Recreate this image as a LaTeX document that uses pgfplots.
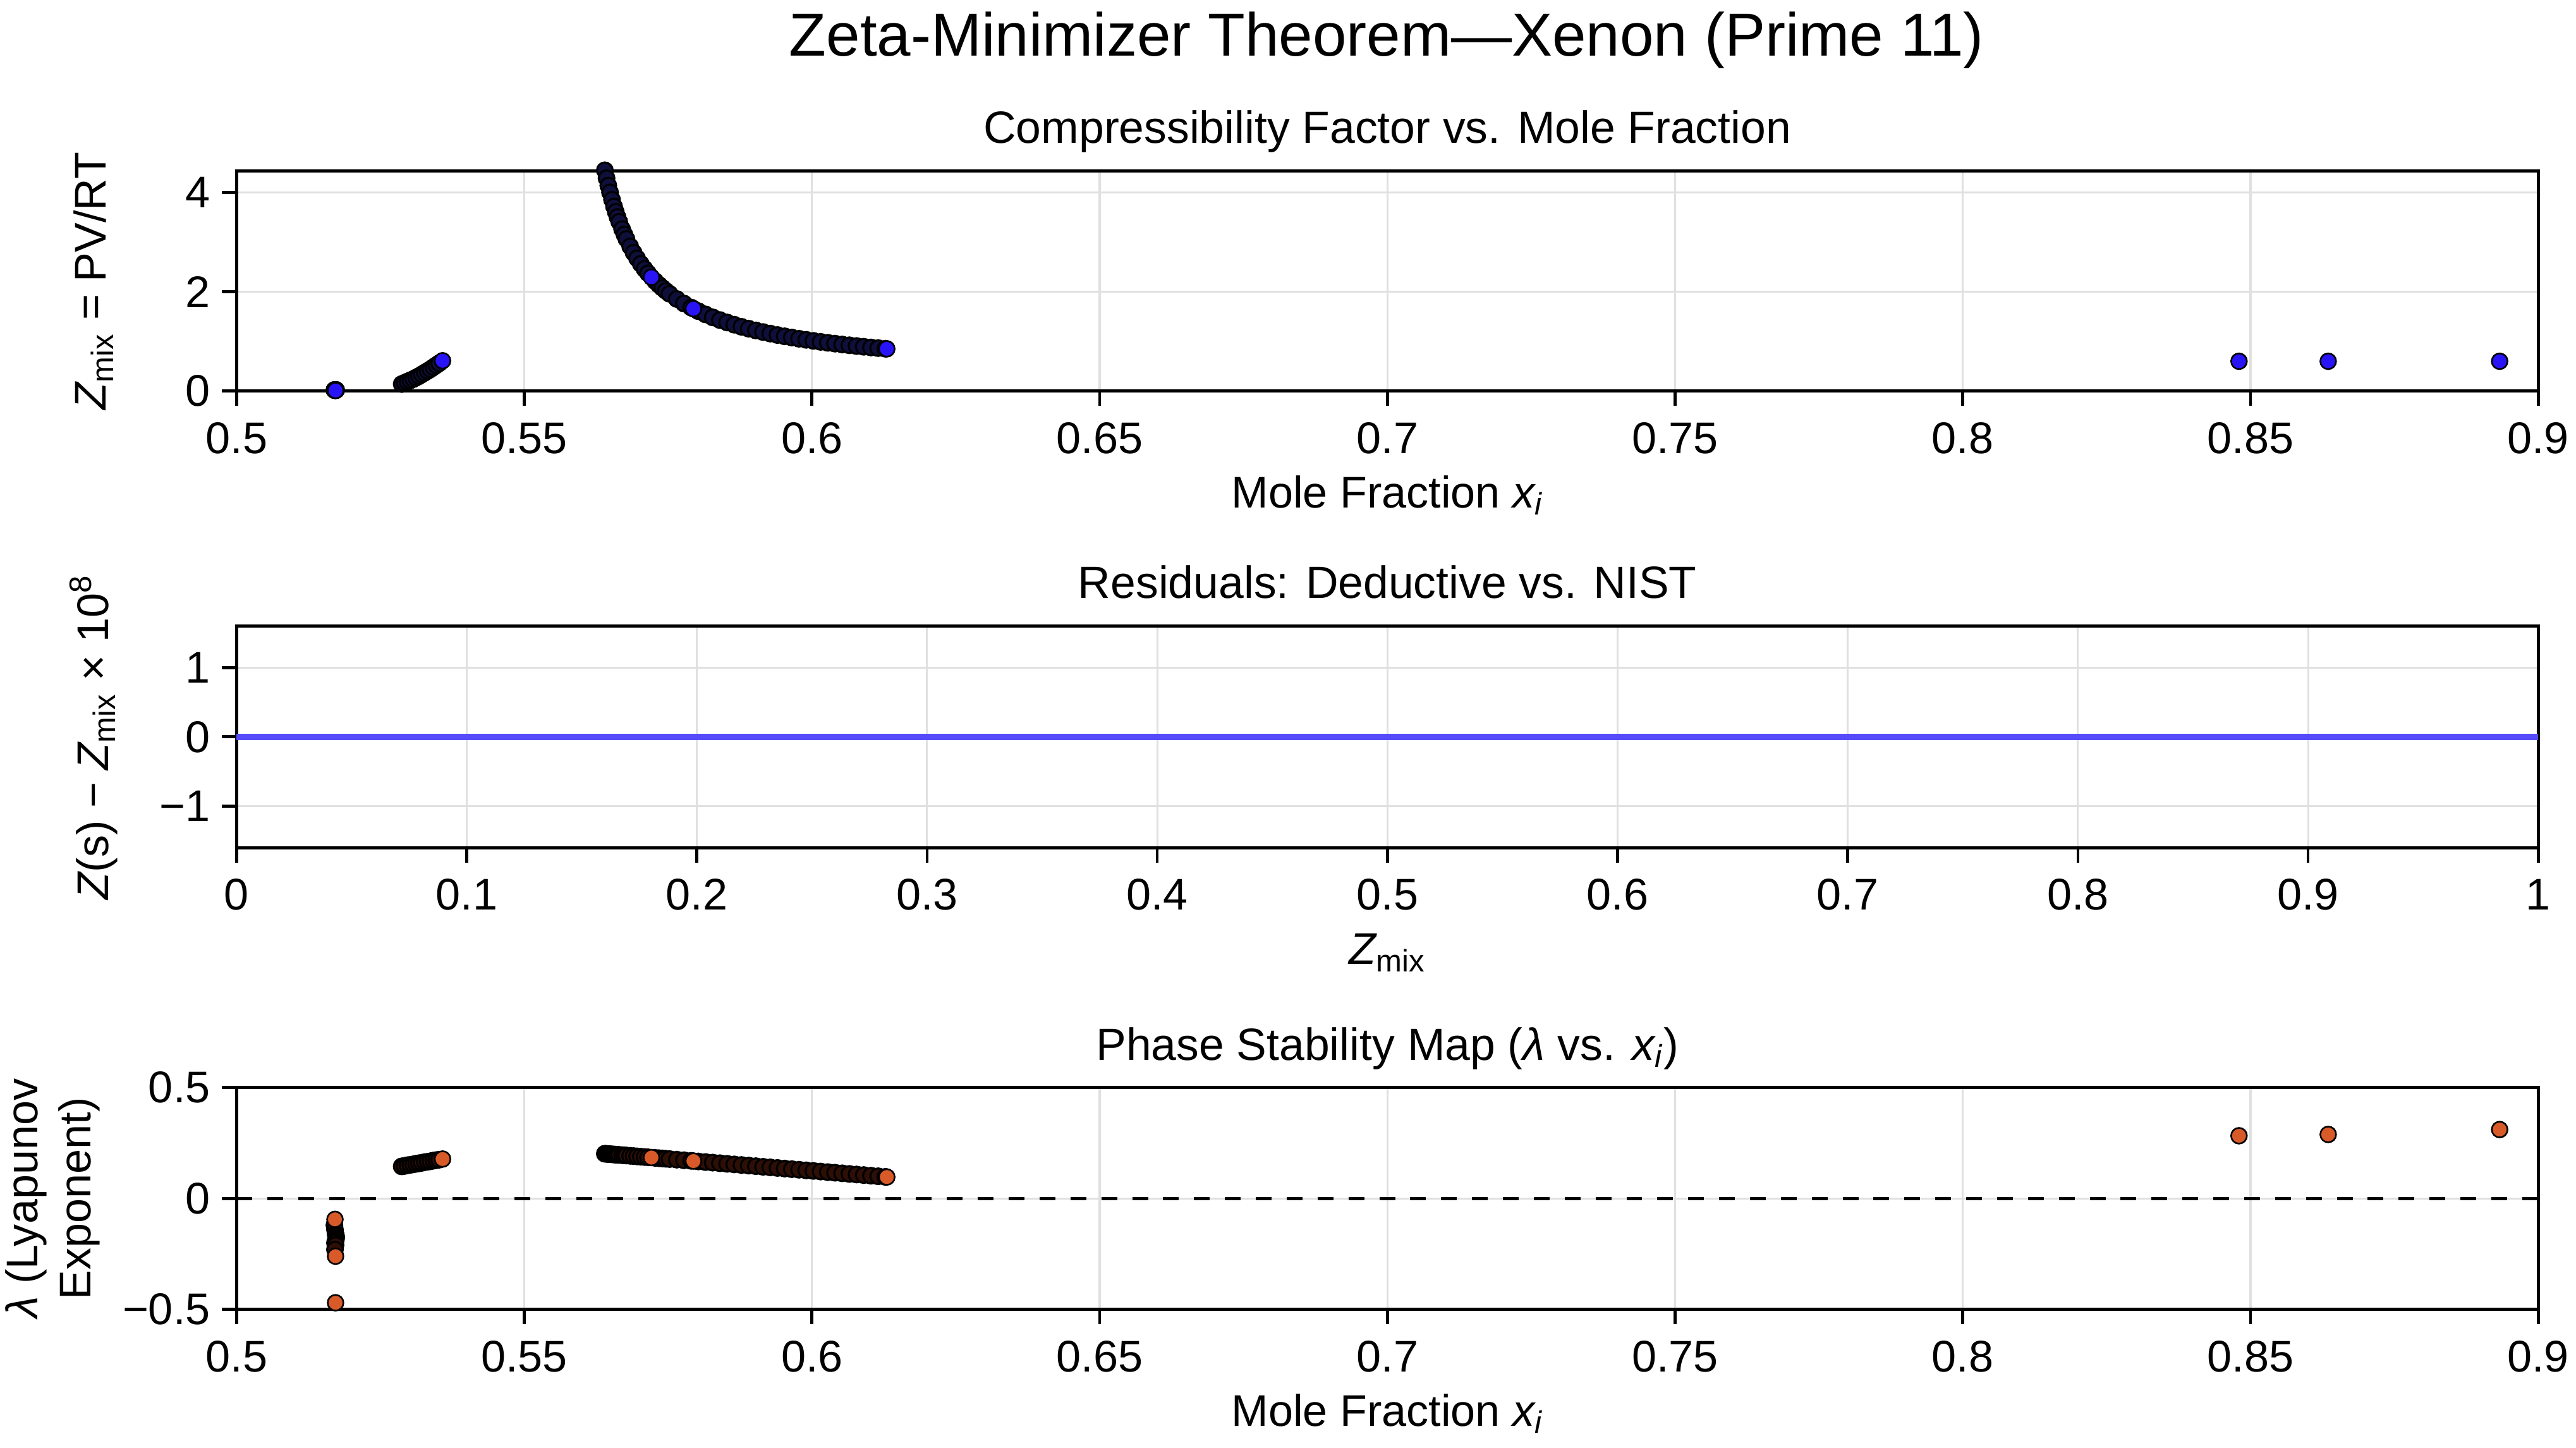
\documentclass[border=0pt]{standalone}
\usepackage{pgfplots}
\pgfplotsset{compat=1.18}
\usepackage{pgfplotstable}
\usepackage{fontspec}
\setmainfont{Liberation Sans}

\definecolor{zblue}{RGB}{40,20,245}
\definecolor{zdarkb}{RGB}{15,15,60}
\definecolor{zorange}{RGB}{215,90,40}
\definecolor{zdarko}{RGB}{45,15,5}
\definecolor{gridc}{RGB}{224,224,224}
\definecolor{resblue}{RGB}{85,75,250}

\pgfplotstableread{
x Z lam c
0.5170 0.02 -0.12 d
0.5171 0.02 -0.14 d
0.5172 0.02 -0.16 d
0.5173 0.02 -0.17 d
0.5173 0.02 -0.18 d
0.5172 0.02 -0.19 d
0.5171 0.02 -0.20 d
0.5172 0.02 -0.21 d
0.5171 0.02 -0.23 d
0.5287 0.140 0.145 d
0.5292 0.165 0.147 d
0.5297 0.190 0.150 d
0.5302 0.215 0.152 d
0.5307 0.240 0.154 d
0.5312 0.270 0.157 d
0.5317 0.300 0.159 d
0.5322 0.335 0.161 d
0.5327 0.370 0.164 d
0.5332 0.405 0.166 d
0.5337 0.440 0.168 d
0.5342 0.480 0.171 d
0.5347 0.520 0.173 d
0.5352 0.560 0.175 d
0.56400 4.451 0.2020 d
0.56430 4.291 0.2014 d
0.56460 4.143 0.2007 d
0.56490 4.006 0.2000 d
0.56525 3.858 0.1993 d
0.56560 3.721 0.1986 d
0.56590 3.612 0.1979 d
0.56620 3.509 0.1973 d
0.56650 3.413 0.1966 d
0.56700 3.265 0.1956 d
0.56740 3.156 0.1947 d
0.56775 3.067 0.1940 d
0.56840 2.916 0.1926 d
0.56900 2.790 0.1913 d
0.56960 2.676 0.1900 d
0.57025 2.564 0.1886 d
0.57090 2.462 0.1872 d
0.57150 2.375 0.1860 d
0.57275 2.215 0.1833 d
0.57340 2.142 0.1819 d
0.57400 2.078 0.1806 d
0.57460 2.019 0.1793 d
0.57525 1.960 0.1779 d
0.57650 1.856 0.1753 d
0.57775 1.764 0.1726 d
0.57900 1.683 0.1699 d
0.58025 1.610 0.1672 d
0.58150 1.545 0.1645 d
0.58275 1.485 0.1619 d
0.58400 1.431 0.1592 d
0.58525 1.382 0.1565 d
0.58650 1.337 0.1538 d
0.58775 1.295 0.1512 d
0.58900 1.257 0.1485 d
0.59025 1.222 0.1458 d
0.59150 1.189 0.1431 d
0.59275 1.158 0.1405 d
0.59400 1.129 0.1378 d
0.59525 1.103 0.1351 d
0.59650 1.078 0.1324 d
0.59775 1.054 0.1298 d
0.59900 1.032 0.1271 d
0.60025 1.011 0.1244 d
0.60150 0.991 0.1217 d
0.60275 0.972 0.1191 d
0.60400 0.955 0.1164 d
0.60525 0.938 0.1137 d
0.60650 0.922 0.1110 d
0.60775 0.907 0.1084 d
0.60900 0.892 0.1057 d
0.61025 0.878 0.1030 d
0.61150 0.865 0.1003 d
0.61275 0.853 0.0977 d
0.5171 0.02 -0.094 h
0.5172 0.02 -0.26 h
0.5172 0.01 -0.47 h
0.5358 0.610 0.178 h
0.57210 2.295 0.1847 h
0.57940 1.659 0.1690 h
0.61300 0.850 0.0970 h
0.8480 0.60 0.283 h
0.8635 0.60 0.289 h
0.8933 0.60 0.311 h
}\datatab

\pgfplotstableread{
zmix res
0.00 0
0.25 0
0.50 0
0.75 0
1.00 0
}\restab

\newcommand{\lbl}{\fontsize{13.5}{16}\selectfont}
\pgfplotsset{
  myax/.style={
    scale only axis, width=700.5pt,
    axis line style={line width=0.9pt},
    tick align=outside, tick pos=left,
    major tick length=4.5pt,
    every tick/.style={black, line width=0.9pt},
    grid=major, major grid style={gridc, line width=0.6pt},
    ticklabel style={font=\lbl},
    xticklabel style={yshift=-1.5pt},
    /pgf/number format/assume math mode=true,
    title style={font=\fontsize{13.75}{16}\selectfont, at={(axis description cs:0.5,1)}, anchor=base, yshift=2.4pt},
    xlabel style={font=\lbl, at={(axis description cs:0.5,0)}, anchor=base, yshift=-35.5pt},
    ylabel style={font=\lbl, at={(axis description cs:-0.0621,0.5)}, anchor=center},
    clip=false,
  },
  xmole/.style={
    xmin=0.5, xmax=0.9,
    xtick={0.5,0.55,0.6,0.65,0.7,0.75,0.8,0.85,0.9},
    xticklabels={0.5,0.55,0.6,0.65,0.7,0.75,0.8,0.85,0.9},
  }
}

\begin{document}
\begin{tikzpicture}
\useasboundingbox (0,0) rectangle (784pt,440.6pt);
\node[font=\fontsize{18.5}{22}\selectfont, anchor=base] at (422pt,423.6pt) {Zeta-Minimizer Theorem—Xenon (Prime 11)};

% Panel 1
\begin{axis}[myax, xmole, height=67pt,
  at={(72pt,321.6pt)}, anchor=south west,
  ymin=0, ymax=4.44, ytick={0,2,4}, yticklabels={0,2,4},
  title={Compressibility Factor vs. Mole Fraction},
  xlabel={Mole Fraction {\itshape x}\textsubscript{\itshape i}},
  ylabel={{\itshape Z}\textsubscript{mix} = PV/RT},
]
\addplot[scatter, only marks, scatter src=explicit symbolic,
  scatter/classes={
    d={mark=*, mark size=2.4pt, draw=black, fill=zdarkb, line width=0.6pt},
    h={mark=*, mark size=2.4pt, draw=black, fill=zblue, line width=0.5pt}}]
  table[x=x, y=Z, meta=c] {\datatab};
\end{axis}

% Panel 2
\begin{axis}[myax, height=67.5pt,
  at={(72pt,182.6pt)}, anchor=south west,
  xmin=0, xmax=1,
  xtick={0,0.1,0.2,0.3,0.4,0.5,0.6,0.7,0.8,0.9,1},
  xticklabels={0,0.1,0.2,0.3,0.4,0.5,0.6,0.7,0.8,0.9,1},
  ymin=-1.6, ymax=1.6, ytick={-1,0,1}, yticklabels={−1,0,1},
  title={Residuals: Deductive vs. NIST},
  xlabel={{\itshape Z}\textsubscript{mix}},
  ylabel={{\itshape Z}(s) − {\itshape Z}\textsubscript{mix} × 10\textsuperscript{8}},
]
\addplot[resblue, line width=1.9pt, no marks] table[x=zmix, y=res] {\restab};
\end{axis}

% Panel 3
\begin{axis}[myax, xmole, height=67.5pt,
  at={(72pt,42.1pt)}, anchor=south west,
  ymin=-0.5, ymax=0.5, ytick={-0.5,0,0.5}, yticklabels={−0.5,0,0.5},
  title={Phase Stability Map ({\itshape λ} vs. {\itshape x}\textsubscript{\itshape i})},
  xlabel={Mole Fraction {\itshape x}\textsubscript{\itshape i}},
  ylabel={{\itshape λ} (Lyapunov\\Exponent)},
  ylabel style={at={(axis description cs:-0.0799,0.5)}, align=center, font=\fontsize{13.5}{16}\selectfont},
]
\addplot[black, dash pattern=on 4.8pt off 4.6pt, line width=1pt, no marks] coordinates {(0.5,0) (0.9,0)};
\addplot[scatter, only marks, scatter src=explicit symbolic,
  scatter/classes={
    d={mark=*, mark size=2.4pt, draw=black, fill=zdarko, line width=0.6pt},
    h={mark=*, mark size=2.4pt, draw=black, fill=zorange, line width=0.5pt}}]
  table[x=x, y=lam, meta=c] {\datatab};
\end{axis}
\end{tikzpicture}
\end{document}
